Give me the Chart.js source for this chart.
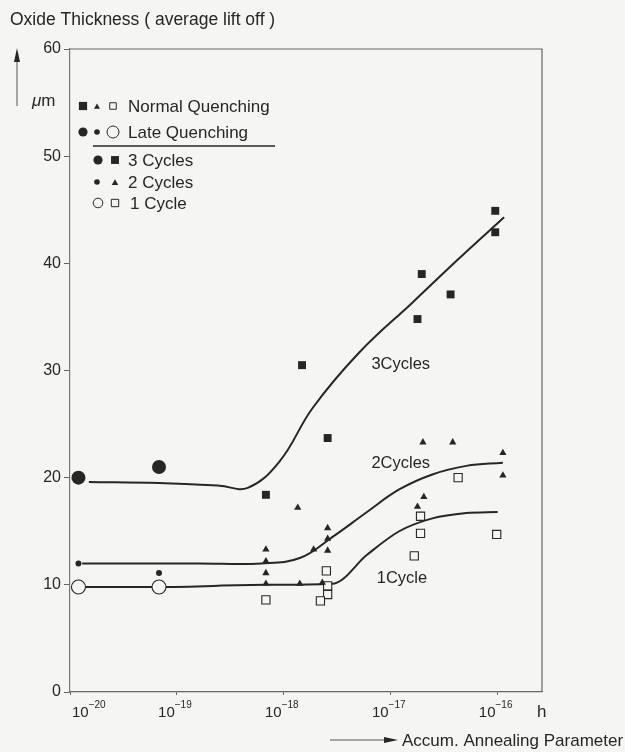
<!DOCTYPE html>
<html lang="en">
<head>
<meta charset="UTF-8">
<title>Oxide Thickness</title>
<script src="https://cdn.jsdelivr.net/npm/chart.js"></script>
<style>
  html, body { margin: 0; padding: 0; background: #f5f5f3; }
  canvas { display: block; }
</style>
</head>
<body>
<canvas id="myChart" width="625" height="752"></canvas>
<script>
// values
// x = accum. annealing parameter (h), y = oxide thickness (um)
const xTicks = [1e-20, 1e-19, 1e-18, 1e-17, 1e-16];
const xTickExp = ['\u221220', '\u221219', '\u221218', '\u221217', '\u221216'];

// normal quenching, 3 cycles (filled squares)
const nq3X = [6.8e-19, 1.48e-18, 2.57e-18, 1.95e-17, 1.78e-17, 3.63e-17, 9.5e-17, 9.5e-17];
const nq3Y = [18.4, 30.5, 23.7, 39.0, 34.8, 37.1, 44.9, 42.9];
// normal quenching, 2 cycles (triangles)
const nq2X = [6.8e-19, 6.8e-19, 6.8e-19, 6.8e-19, 1.35e-18, 1.41e-18, 1.9e-18, 2.29e-18,
              2.57e-18, 2.57e-18, 2.57e-18, 2.0e-17, 3.8e-17, 1.12e-16, 1.12e-16, 2.04e-17, 1.78e-17];
const nq2Y = [13.3, 12.2, 11.1, 10.1, 17.2, 10.1, 13.3, 10.2,
              15.3, 14.3, 13.2, 23.3, 23.3, 22.3, 20.2, 18.2, 17.3];
// normal quenching, 1 cycle (open squares)
const nq1X = [6.8e-19, 2.5e-18, 2.57e-18, 2.57e-18, 2.2e-18, 4.27e-17, 1.9e-17, 1.9e-17, 1.66e-17, 9.8e-17];
const nq1Y = [8.6, 11.3, 9.9, 9.1, 8.5, 20.0, 16.4, 14.8, 12.7, 14.7];
// late quenching (circles)
const lq3X = [1.2e-20, 6.8e-20];
const lq3Y = [20.0, 21.0];
const lq2X = [1.2e-20, 6.8e-20];
const lq2Y = [12.0, 11.1];
const lq1X = [1.2e-20, 6.8e-20];
const lq1Y = [9.8, 9.8];

// fitted curves
const c3X = [1.5e-20, 6.8e-20, 2.5e-19, 4.6e-19, 9.1e-19, 1.86e-18, 5.1e-18, 1.62e-17, 4.4e-17, 1.15e-16];
const c3Y = [19.6, 19.5, 19.25, 19.05, 21.5, 26.5, 31.7, 36.4, 40.5, 44.3];
const c2X = [1.3e-20, 1.6e-19, 6.2e-19, 1.41e-18, 2.88e-18, 6.0e-18, 1.2e-17, 2.45e-17, 5.1e-17, 1.12e-16];
const c2Y = [12.0, 12.0, 12.0, 12.5, 14.5, 16.8, 18.9, 20.3, 21.1, 21.4];
const c1X = [1.2e-20, 6.8e-20, 6.8e-19, 2.88e-18, 6.0e-18, 1.2e-17, 2.45e-17, 5.1e-17, 1.0e-16];
const c1Y = [9.8, 9.8, 10.0, 10.1, 12.8, 15.0, 16.2, 16.7, 16.8];

// curve labels
const curveNames = ['3Cycles', '2Cycles', '1Cycle'];
const curveNameX = [6.6e-18, 6.6e-18, 7.4e-18];
const curveNameY = [30.6, 21.3, 10.6];

const legendRows = ['Normal Quenching', 'Late Quenching', '3 Cycles', '2 Cycles', '1 Cycle'];

const INK = '#262626';
const BG = '#f5f5f3';
const FONT = "'Liberation Sans', Arial, sans-serif";

const pts = (xs, ys) => xs.map((x, i) => ({x: x, y: ys[i]}));

function marks(label, xs, ys, style, r, filled) {
    return {
        label: label,
        data: pts(xs, ys),
        showLine: false,
        pointStyle: style,
        pointRadius: r,
        pointBackgroundColor: filled ? INK : BG,
        pointBorderColor: INK,
        pointBorderWidth: filled ? 0 : 1.1,
        order: 0
    };
}

function curve(label, xs, ys, monotone) {
    const ds = {
        label: label,
        data: pts(xs, ys),
        showLine: true,
        borderColor: INK,
        borderWidth: 2,
        pointRadius: 0,
        order: 1
    };
    if (monotone) ds.cubicInterpolationMode = 'monotone';
    else ds.tension = 0.4;
    return ds;
}

function sym(ctx, style, r, x, y, filled) {
    ctx.fillStyle = filled ? INK : BG;
    ctx.strokeStyle = INK;
    Chart.helpers.drawPoint(ctx, {pointStyle: style, radius: r, rotation: 0, borderWidth: filled ? 0 : 1.1}, x, y);
}

const decor = {
    id: 'decor',
    afterDraw(chart) {
        const {ctx, chartArea: a, scales: {x, y}} = chart;
        ctx.save();

        // top and right frame
        ctx.strokeStyle = '#666';
        ctx.lineWidth = 1.2;
        ctx.beginPath();
        ctx.moveTo(a.left, a.top);
        ctx.lineTo(a.right, a.top);
        ctx.lineTo(a.right, a.bottom);
        ctx.stroke();

        ctx.fillStyle = INK;
        ctx.textBaseline = 'middle';
        ctx.textAlign = 'left';

        // x tick labels 10^n
        xTicks.forEach((v, i) => {
            const px = x.getPixelForValue(v);
            ctx.font = '15px ' + FONT;
            const wb = ctx.measureText('10').width;
            ctx.font = '10px ' + FONT;
            const we = ctx.measureText(xTickExp[i]).width;
            let left = px - (wb + we) / 2 - 2;
            if (left < a.left + 2) left = a.left + 2;
            ctx.font = '15px ' + FONT;
            ctx.fillText('10', left, 713);
            ctx.font = '10px ' + FONT;
            ctx.fillText(xTickExp[i], left + wb, 705);
        });
        ctx.font = '17px ' + FONT;
        ctx.fillText('h', 537, 712);

        // title and unit
        ctx.font = '17.5px ' + FONT;
        ctx.fillText('Oxide Thickness ( average lift off )', 10, 20);
        ctx.font = 'italic 17px ' + FONT;
        ctx.fillText('\u03bc', 32, 101);
        const wmu = ctx.measureText('\u03bc').width;
        ctx.font = '17px ' + FONT;
        ctx.fillText('m', 32 + wmu, 101);

        // vertical arrow
        ctx.strokeStyle = '#555';
        ctx.lineWidth = 1;
        ctx.beginPath();
        ctx.moveTo(17, 106);
        ctx.lineTo(17, 58);
        ctx.stroke();
        ctx.beginPath();
        ctx.moveTo(17, 48);
        ctx.lineTo(20, 62);
        ctx.lineTo(14, 62);
        ctx.closePath();
        ctx.fill();

        // horizontal arrow + axis name
        ctx.beginPath();
        ctx.moveTo(330, 740);
        ctx.lineTo(388, 740);
        ctx.stroke();
        ctx.beginPath();
        ctx.moveTo(398, 740);
        ctx.lineTo(384, 737);
        ctx.lineTo(384, 743);
        ctx.closePath();
        ctx.fill();
        ctx.font = '17px ' + FONT;
        ctx.fillText('Accum. Annealing Parameter', 402, 741);

        // curve labels
        ctx.font = '16.5px ' + FONT;
        curveNames.forEach((t, i) => {
            ctx.fillText(t, x.getPixelForValue(curveNameX[i]), y.getPixelForValue(curveNameY[i]));
        });

        // legend
        const rowY = [106, 132, 160, 182, 203];
        sym(ctx, 'rect', 5.8, 83, rowY[0], true);
        sym(ctx, 'triangle', 3.5, 97, rowY[0] + 1, true);
        sym(ctx, 'rect', 4.6, 113, rowY[0], false);
        sym(ctx, 'circle', 4.6, 83, rowY[1], true);
        sym(ctx, 'circle', 2.8, 97, rowY[1], true);
        sym(ctx, 'circle', 6, 113, rowY[1], false);
        sym(ctx, 'circle', 4.6, 98, rowY[2], true);
        sym(ctx, 'rect', 5.6, 115, rowY[2], true);
        sym(ctx, 'circle', 2.8, 97, rowY[3], true);
        sym(ctx, 'triangle', 3.8, 115, rowY[3] + 1, true);
        sym(ctx, 'circle', 4.8, 98, rowY[4], false);
        sym(ctx, 'rect', 5.2, 115, rowY[4], false);
        ctx.fillStyle = INK;
        ctx.font = '17px ' + FONT;
        legendRows.forEach((t, i) => ctx.fillText(t, i === 4 ? 130 : 128, rowY[i] + 1));
        ctx.strokeStyle = INK;
        ctx.lineWidth = 1.3;
        ctx.beginPath();
        ctx.moveTo(93, 146);
        ctx.lineTo(275, 146);
        ctx.stroke();

        ctx.restore();
    }
};

const config = {
    type: 'scatter',
    data: {
        datasets: [
            marks('NQ 3 cycles', nq3X, nq3Y, 'rect', 5.6, true),
            marks('NQ 2 cycles', nq2X, nq2Y, 'triangle', 4.2, true),
            marks('NQ 1 cycle', nq1X, nq1Y, 'rect', 5.8, false),
            marks('LQ 3 cycles', lq3X, lq3Y, 'circle', 7, true),
            marks('LQ 2 cycles', lq2X, lq2Y, 'circle', 3, true),
            marks('LQ 1 cycle', lq1X, lq1Y, 'circle', 7, false),
            curve('3 Cycles', c3X, c3Y, false),
            curve('2 Cycles', c2X, c2Y, false),
            curve('1 Cycle', c1X, c1Y, true)
        ]
    },
    options: {
        responsive: false,
        animation: false,
        layout: { padding: { left: 0, right: 83, top: 49, bottom: 0 } },
        plugins: { legend: { display: false }, tooltip: { enabled: false } },
        scales: {
            x: {
                type: 'logarithmic',
                min: 1e-20,
                max: 2.6e-16,
                afterBuildTicks: s => { s.ticks = xTicks.map(v => ({value: v})); },
                afterFit: s => { s.height = 60; },
                ticks: { display: false },
                grid: { drawOnChartArea: false, tickLength: 3, color: '#666' },
                border: { color: '#666', width: 1.2 }
            },
            y: {
                min: 0,
                max: 60,
                afterFit: s => { s.width = 70; },
                ticks: { stepSize: 10, color: INK, font: { family: FONT, size: 16 }, padding: 3 },
                grid: { drawOnChartArea: false, tickLength: 6, color: '#666' },
                border: { color: '#777', width: 1.2 }
            }
        }
    },
    plugins: [decor]
};

new Chart(document.getElementById('myChart'), config);
</script>
</body>
</html>
